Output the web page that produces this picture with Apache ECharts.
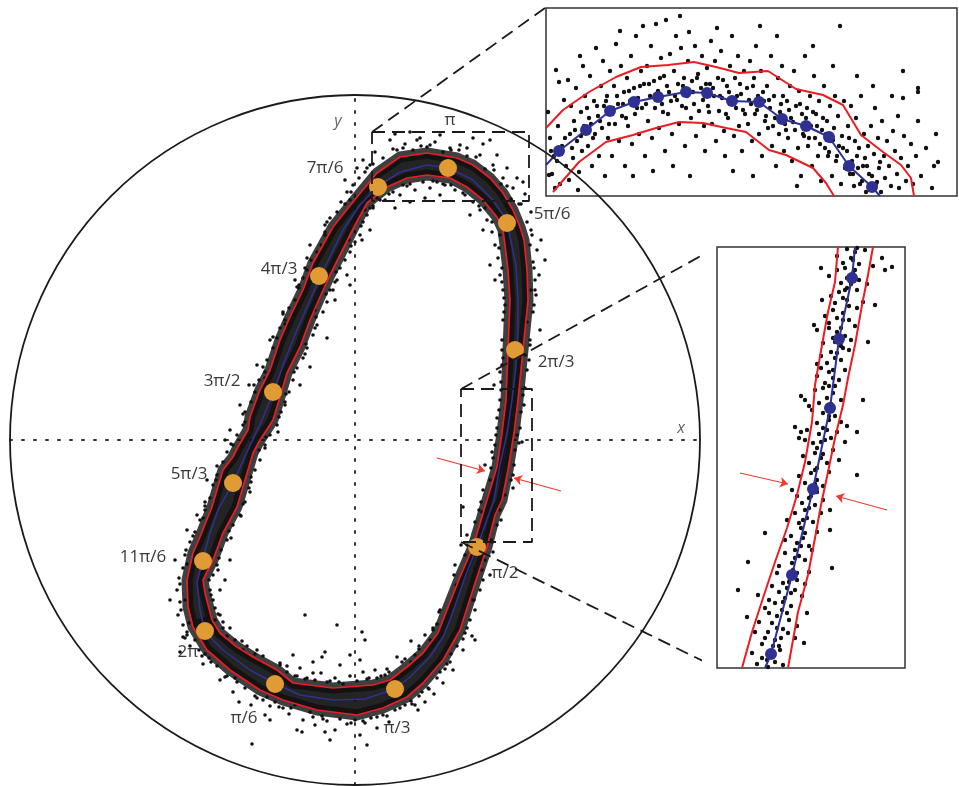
<!DOCTYPE html>
<html><head><meta charset="utf-8">
<script src="https://cdn.jsdelivr.net/npm/echarts@6.0.0/dist/echarts.min.js"></script>
<style>html,body{margin:0;padding:0;background:#fff}#c{width:959px;height:786px}</style>
</head><body><div id="c"></div>
<script>
// Main panel units: the large circle has radius R, origin at its centre, y up.
const R = 345;
const centerCurve = [[-150,-192],[-132,-210],[-105,-230],[-79,-244],[-55,-255],[-22,-260],[10,-259],[40,-249],[55,-237],[75,-217],[88,-197],[95,-180],[110,-137],[122,-107],[139,-60],[145,-25],[152,7],[157,40],[161,73],[163,110],[163,140],[161,175],[152,217],[148,225],[138,240],[118,260],[94,272],[72,275],[45,268],[22,253],[5,235],[-12,210],[-35,163],[-58,110],[-70,80],[-82,47],[-93,20],[-103,-1],[-122,-43],[-137,-70],[-145,-93],[-153,-122],[-158,-143],[-155,-170],[-150,-192]];
const outerCurve = [[-162,-187],[-148,-210],[-125,-230],[-95,-250],[-72,-260],[-38,-270],[2,-275],[28,-268],[52,-257],[68,-243],[88,-220],[105,-190],[113,-165],[122,-137],[132,-107],[140,-75],[147,-60],[153,-30],[159,7],[163,40],[168,90],[173,140],[172,170],[169,200],[165,213],[158,230],[148,247],[135,262],[118,275],[102,282],[72,287],[45,283],[22,267],[2,243],[-22,213],[-42,177],[-52,150],[-65,123],[-75,100],[-85,70],[-95,50],[-105,23],[-107,10],[-117,-7],[-122,-17],[-132,-30],[-138,-50],[-143,-67],[-155,-97],[-162,-113],[-168,-140],[-167,-167],[-162,-187]];
const innerCurve = [[-143,-180],[-135,-193],[-118,-207],[-102,-217],[-78,-230],[-62,-243],[-22,-248],[18,-245],[35,-240],[52,-227],[68,-213],[83,-193],[90,-175],[105,-137],[118,-107],[132,-60],[142,-27],[147,7],[151,40],[153,90],[155,140],[153,170],[150,195],[148,210],[142,223],[128,240],[112,253],[95,262],[72,265],[52,262],[32,253],[12,237],[0,215],[-10,195],[-25,165],[-35,143],[-45,120],[-55,93],[-68,67],[-75,43],[-82,20],[-95,0],[-102,-13],[-110,-40],[-118,-67],[-132,-93],[-142,-120],[-152,-140],[-150,-153],[-143,-180]];
const phaseLabels = ['π','7π/6','5π/6','4π/3','2π/3','3π/2','5π/3','π/2','11π/6','2π','π/6','π/3'];
const phasePoints = [[93,272],[23,253],[152,217],[-36,164],[160,90],[-82,48],[-122,-43],[122,-107],[-152,-121],[-150,-191],[-80,-244],[40,-249]];
const cloud = [[-160,-200],[-165,-206],[-156,-210],[-170,-198],[-150,-214],[-144,-222],[-152,-224],[-138,-226],[-128,-236],[-135,-240],[-118,-242],[-110,-248],[-122,-252],[-100,-256],[-92,-260],[-104,-265],[-85,-266],[-140,-180],[-132,-188],[-128,-196],[-120,-200],[-112,-210],[-100,-214],[-95,-222],[-88,-226],[-125,-188],[-145,-176],[-175,-212],[-116,-262],[-90,-275],
[-80,-262],[-72,-268],[-66,-274],[-60,-265],[-52,-280],[-45,-272],[-40,-285],[-33,-276],[-28,-281],[-20,-290],[-15,-279],[-8,-284],[0,-280],[5,-295],[10,-283],[16,-278],[22,-288],[28,-275],[34,-282],[40,-270],[-58,-290],[-25,-300],[12,-305],[-85,-280],[-48,-266],[-10,-272],[18,-270],
[-75,-225],[-68,-232],[-60,-236],[-55,-228],[-48,-238],[-40,-240],[-34,-233],[-28,-242],[-20,-238],[-12,-244],[-5,-236],[2,-241],[8,-232],[14,-238],[20,-230],[26,-236],[32,-229],[-42,-222],[-15,-225],[5,-220],[-30,-212],[10,-200],[-18,-185],[-62,-215],[-50,-175],
[-53,-292],[-30,-292],[88,-243],[63,-270],[-33,-217],[-5,-215],[7,-192],[-42,-233],
[56,-261],[60,-265],[73,-248],[79,-254],[92,-224],[98,-230],[110,-193],[117,-196],[45,-268],[64,-256],[82,-238],[96,-214],[102,-206],[85,-232],[70,-262],[108,-210],[115,-180],[120,-200],
[30,-235],[47,-222],[42,-217],[64,-209],[56,-201],[78,-188],[84,-172],[75,-200],[70,-195],[60,-215],[48,-232],
[118,-160],[125,-150],[120,-128],[130,-120],[136,-100],[128,-92],[142,-85],[145,-70],[150,-55],[156,-40],[152,-20],[160,-10],[162,5],[158,20],[166,28],[168,45],[164,60],[172,70],[170,85],[175,100],[172,118],[178,128],[176,150],[180,160],[158,-35],[148,-45],[167,-2],[185,110],[135,-135],
[98,-160],[102,-148],[100,-125],[110,-115],[112,-95],[120,-82],[124,-70],[128,-50],[135,-40],[138,-18],[140,-5],[142,12],[144,30],[146,50],[145,68],[148,82],[147,100],[148,120],[150,135],[116,-120],[106,-105],[139,55],[130,-25],[108,-67],
[180,150],[184,165],[178,178],[182,190],[177,205],[172,218],[176,228],[166,236],[170,246],[158,252],[162,262],[148,262],[152,272],[138,275],[142,285],[125,285],[128,296],[112,292],[186,200],[190,180],[168,258],[135,300],[118,302],
[148,150],[145,165],[143,182],[140,195],[137,208],[132,220],[125,230],[118,238],[110,245],[100,250],[140,160],[128,210],[115,225],[135,175],[122,246],
[95,292],[88,288],[80,298],[72,293],[65,302],[58,290],[50,296],[42,290],[35,300],[28,282],[20,288],[15,275],[85,305],[55,308],[105,295],[62,300],[40,306],
[90,255],[82,258],[75,252],[68,258],[60,250],[52,254],[45,245],[38,248],[30,240],[22,242],[15,232],[70,242],[55,238],[85,245],[40,232],
[10,268],[4,262],[-2,255],[-8,248],[-5,240],[-14,238],[-18,228],[-25,222],[-22,212],[-30,205],[-34,195],[-38,188],[-44,180],[-48,170],[-52,162],[-56,155],[2,272],[8,280],[-10,260],[-30,215],[-45,195],[-60,160],
[25,240],[18,232],[12,225],[8,218],[5,205],[0,198],[-5,188],[-10,180],[-15,172],[-18,160],[-25,150],[-20,140],[15,210],[-8,165],
[-56,152],[-60,140],[-66,132],[-70,120],[-75,112],[-78,102],[-82,92],[-88,80],[-90,68],[-96,60],[-100,48],[-104,38],[-110,28],[-112,15],[-118,5],[-122,-5],[-128,-12],[-132,-22],[-138,-35],[-142,-45],[-62,125],[-72,128],[-85,100],[-98,75],[-106,55],[-115,35],[-125,10],[-130,0],[-148,-40],
[-22,150],[-28,138],[-32,128],[-38,115],[-42,105],[-48,92],[-52,82],[-58,72],[-62,60],[-66,48],[-70,38],[-74,28],[-78,15],[-85,5],[-90,-8],[-95,-20],[-100,-30],[-104,-42],[-28,102],[-45,73],[7,200],[-5,155],[-40,130],[-55,55],
[-145,-58],[-150,-70],[-155,-80],[-160,-92],[-165,-102],[-170,-115],[-172,-128],[-176,-138],[-178,-150],[-175,-162],[-177,-175],[-172,-185],[-168,-195],[-158,-75],[-168,-90],[-180,-120],[-185,-160],[-172,-197],[-150,-62],
[-105,-52],[-110,-62],[-115,-75],[-122,-85],[-128,-100],[-134,-110],[-138,-125],[-142,-135],[-145,-150],[-142,-160],[-140,-168],[-135,-175],[-135,-150],[-125,-120],[-130,-140],[-103,-304],
[-168,-192],[-166,-183],[-153,-216],[-146,-218],[-130,-237],[-120,-238],[-98,-258],[-88,-257],[-76,-267],[-64,-268],[-42,-277],[-32,-279],[-4,-283],[8,-281],[22,-277],[32,-276],[50,-265],[57,-264],[74,-249],[67,-252],[95,-222],[90,-229],[112,-188],[108,-199],[120,-170],[119,-160],[128,-140],[127,-130],[138,-112],[137,-102],[146,-80],[159,-25],[158,-48],[165,12],[164,-3],[169,35],[170,52],[174,80],[175,95],[179,135],[181,145],[179,172],[175,195],[176,210],[164,236],[156,241],[152,254],[146,256],[139,270],[130,271],[121,283],[112,284],[104,290],[96,290],[75,295],[66,294],[48,292],[38,291],[18,276],[12,272],[-4,248],[-10,236],[-28,218],[-30,208],[-48,182],[-50,172],[-58,153],[-72,126],[-70,116],[-82,103],[-92,73],[-90,62],[-101,55],[-112,26],[-110,18],[-124,-4],[-138,-26],[-139,-40],[-150,-66],[-152,-78],[-162,-96],[-169,-110],[-168,-124],[-175,-144],[-174,-170],[-170,-160],
[-137,-174],[-132,-182],[-113,-201],[-108,-206],[-98,-210],[-92,-216],[-75,-223],[-68,-226],[-58,-236],[-50,-239],[-25,-241],[-16,-242],[12,-239],[22,-238],[34,-232],[50,-219],[56,-222],[64,-206],[78,-190],[82,-184],[85,-170],[99,-135],[101,-145],[112,-105],[114,-118],[126,-62],[127,-72],[136,-28],[137,-12],[141,5],[142,22],[145,40],[146,58],[147,90],[147,75],[149,142],[149,128],[147,172],[147,158],[144,192],[145,205],[137,218],[124,234],[130,232],[108,247],[96,255],[88,256],[78,259],[55,256],[48,255],[34,246],[28,247],[18,234],[10,230],[6,214],[3,222],[-4,194],[-6,200],[-19,168],[-20,158],[-29,146],[-39,123],[-40,112],[-49,96],[-50,86],[-61,68],[-69,46],[-70,35],[-76,23],[-77,8],[-89,3],[-90,-5],[-96,-10],[-104,-37],[-106,-48],[-112,-64],[-114,-76],[-126,-91],[-124,-98],[-136,-118],[-137,-130],[-146,-140],[-144,-155]];
const arrowsMain = [[[82,-18],[130,-31]],[[206,-51],[159,-38]]];
// dashed zoom regions and their connectors (main units)
const boxTop = [[17,308],[174,308],[174,239],[17,239],[17,308]];
const boxSide = [[106,51],[177,51],[177,-102],[106,-102],[106,51]];
const connectors = [[[17,308],[190,432]],[[106,51],[362,193]],[[106,-102],[362,-228]]];
const axisNames = [['x',[326,12]],['y',[-17,319]]];

// Top zoom panel (local zoom units)
const topBlueStart = [0,31], topBlueEnd = [334,0];
const topBlue = [[13,45],[40,66],[64,85],[88,94],[112,99],[140,104],[161,103],[186,95],[213,94],[236,77],[260,70],[283,59],[303,30],[326,9]];
const topOuter = [[0,68],[17,86],[43,104],[70,119],[95,129],[122,131],[148,134],[170,129],[193,123],[222,125],[250,107],[277,101],[297,91],[315,61],[337,44],[355,31],[365,18],[368,0]];
const topInner = [[7,4],[33,34],[60,54],[87,61],[110,68],[133,74],[157,73],[180,68],[200,64],[223,46],[240,41],[267,28],[280,13],[288,0]];
const topCloud = [[2,84],[4,58],[6,22],[8,40],[10,126],[12,70],[13,114],[14,12],[16,50],[18,96],[20,30],[3,21],[22,116],[23,16],[9,8],
[24,62],[25,90],[27,38],[28,75],[30,108],[31,55],[33,24],[34,140],[35,84],[36,45],[38,70],[39,100],[32,6],[37,130],
[41,88],[42,50],[44,120],[45,72],[46,30],[48,95],[49,62],[50,148],[52,80],[53,40],[55,110],[56,68],[58,90],[59,20],[57,135],
[61,100],[62,58],[64,125],[65,84],[66,40],[68,110],[69,72],[70,152],[72,92],[73,55],[75,130],[76,80],[78,104],[79,30],[74,165],
[81,118],[82,70],[84,95],[85,140],[86,52],[88,108],[89,82],[90,160],[92,98],[93,62],[95,125],[96,88],[98,112],[99,40],[97,170],[87,20],
[101,130],[102,75],[104,100],[105,150],[106,58],[108,115],[109,88],[110,172],[112,105],[113,68],[115,138],[116,92],[118,120],[119,45],[120,176],[107,25],
[121,110],[122,82],[124,142],[125,95],[126,62],[128,125],[129,100],[130,160],[132,112],[133,72],[135,148],[136,90],[138,118],[139,50],[134,180],[127,30],
[141,100],[142,135],[143,164],[145,78],[146,115],[148,92],[149,150],[150,60],[152,122],[153,85],[155,108],[156,140],[158,70],[159,45],[144,20],
[161,128],[162,90],[164,112],[165,155],[166,72],[168,100],[169,135],[170,55],[172,118],[173,85],[175,145],[176,98],[178,65],[179,40],[171,168],
[181,110],[182,78],[184,130],[185,95],[186,160],[188,60],[189,118],[190,88],[192,140],[193,70],[195,102],[196,45],[198,125],[199,82],[187,25],
[201,108],[202,72],[204,135],[205,92],[206,55],[208,118],[209,82],[210,150],[212,100],[213,62],[215,125],[216,40],[218,95],[219,75],[214,170],[207,20],
[221,110],[222,68],[224,88],[225,140],[226,50],[228,100],[229,78],[230,30],[232,118],[233,62],[235,92],[236,130],[238,45],[239,72],[231,160],
[241,95],[242,58],[244,110],[245,78],[246,35],[248,125],[249,66],[250,90],[252,48],[253,105],[255,20],[256,82],[258,60],[259,140],[251,10],
[261,88],[262,50],[264,100],[265,70],[266,30],[268,120],[269,58],[270,82],[272,40],[273,95],[275,15],[276,66],[278,110],[279,48],[267,150],
[281,75],[282,40],[284,90],[285,55],[286,20],[288,68],[289,100],[290,35],[292,80],[293,50],[295,12],[296,60],[298,95],[299,28],[287,130],[294,170],
[301,45],[302,70],[304,22],[305,90],[306,35],[308,10],[309,55],[310,78],[312,28],[313,48],[315,100],[316,15],[318,62],[319,38],[311,120],
[321,30],[322,50],[324,8],[325,70],[326,20],[328,42],[329,88],[330,12],[332,58],[333,28],[335,4],[336,75],[338,40],[339,18],[327,110],
[341,55],[343,30],[345,10],[347,65],[349,45],[351,22],[353,8],[355,38],[358,60],[360,15],[346,100],[352,80],
[362,30],[365,52],[367,12],[370,40],[372,75],[375,20],[380,48],[388,30],[386,8],[372,108],[390,62],[357,125],[357,98],[372,104],[392,34],
[5,45],[11,35],[19,58],[26,48],[29,66],[35,60],[43,78],[47,58],[51,90],[54,75],[60,95],[63,72],[67,88],[71,100],[77,92],[80,78],[83,105],[91,88],[94,110],[100,92],[103,112],[111,96],[114,118],[117,84],[123,104],[131,96],[137,110],[140,88],[147,104],[151,118],[157,96],[160,112],[163,84],[167,108],[174,100],[177,116],[180,82],[183,104],[191,100],[194,112],[197,86],[203,96],[207,110],[211,86],[217,104],[220,80],[223,96],[227,70],[234,84],[237,100],[240,66],[243,86],[247,74],[254,92],[257,62],[260,78],[263,58],[267,84],[271,70],[274,52],[277,78],[280,62],[283,44],[287,56],[291,40],[297,48],[300,30],[303,58],[307,22],[311,40],[314,12],[317,30],[320,4],[323,22],[331,14],[334,34]];

// Side zoom panel (local zoom units)
const sideBlueStart = [48,0], sideBlueEnd = [138,421];
const sideBlue = [[54,14],[75,93],[96,179],[113,260],[122,329],[135,390]];
const sideLeft = [[25,0],[35,36],[46,70],[58,106],[70,140],[80,173],[88,206],[95,246],[98,283],[105,323],[111,356],[118,386],[121,421]];
const sideRight = [[71,0],[81,56],[91,93],[98,130],[104,163],[111,196],[118,230],[126,263],[131,290],[138,323],[145,363],[151,393],[156,421]];
const sideCloud = [[45,10],[53,13],[51,1],[63,18],[40,4],[58,6],[35,15],[66,3],
[87,25],[38,36],[51,36],[71,35],[58,28],[62,22],[48,30],[45,24],[66,39],[78,30],
[30,51],[48,60],[90,55],[55,45],[60,52],[65,58],[72,48],[52,55],[80,42],[42,46],
[21,78],[41,73],[58,65],[68,70],[62,76],[74,62],[78,78],[52,68],[85,72],
[66,85],[72,92],[80,88],[60,95],[76,98],[88,84],[55,82],[92,96],[70,80],
[31,106],[115,100],[75,105],[82,112],[68,115],[88,108],[62,102],[95,118],[78,118],
[48,135],[113,138],[80,125],[86,130],[74,132],[92,122],[68,128],[100,136],[84,140],
[113,158],[82,145],[90,150],[78,155],[96,146],[70,148],[104,155],[88,158],
[98,163],[85,165],[92,170],[100,176],[80,172],[106,168],[75,178],[95,178],
[140,193],[88,185],[100,188],[94,195],[106,182],[82,192],[112,196],[98,198],
[92,205],[104,210],[98,215],[110,205],[86,212],[116,218],[100,220],[122,208],
[96,225],[108,228],[102,234],[114,230],[90,238],[120,236],[106,240],[128,226],
[100,245],[112,248],[106,255],[118,252],[95,258],[124,246],[110,260],[130,242],
[102,265],[110,270],[116,275],[98,278],[124,268],[106,280],[84,272],[88,268],[92,262],
[78,241],[84,236],[82,230],[88,228],
[108,285],[116,290],[112,296],[122,288],[100,292],[128,298],[104,300],[118,282],
[110,305],[118,310],[114,316],[124,308],[104,312],[132,318],[100,304],[126,320],
[106,325],[116,330],[120,336],[112,340],[128,332],[100,338],[134,328],[124,322],
[112,345],[120,350],[126,355],[116,358],[132,348],[108,352],[138,342],[140,360],
[118,365],[126,370],[122,376],[132,362],[114,372],[140,378],[130,380],[146,366],
[124,385],[130,390],[136,395],[120,398],[142,388],[128,400],[150,384],[112,392],
[126,405],[134,410],[138,416],[130,419],[142,404],[120,412],[148,418],[156,402],[165,410],[104,400],
[168,398],[175,401],[158,363],[151,326],[146,268],[140,236],[97,343],[105,368],
[50,8],[56,22],[60,40],[64,30],[70,55],[66,66],[74,75],[72,86],[80,95],[78,110],[84,122],[88,135],[86,148],[92,160],[94,172],[98,184],[100,200],[106,214],[104,226],[110,238],[112,252],[114,264],[112,282],[116,298],[120,315],[118,326],[124,340],[126,348],[130,368],[128,378],[134,384],[138,398],[136,408],[140,420]];
const arrowsSide = [[[23,195],[71,184]],[[170,158],[119,172]]];

// ---- styles (kept apart from data) ----
const RED = '#ec1c24', BLUE = '#2e3192', ORANGE = '#e19b35', INK = '#111', TXT = '#3a3a3a';
const FONT = "'Open Sans','DejaVu Sans',sans-serif";
const labelOffset = {'π':[2,-48],'7π/6':[-53,-19],'5π/6':[45,-9],'4π/3':[-40,-7],'2π/3':[41,12],'3π/2':[-51,-11],'5π/3':[-44,-9],'π/2':[28,26],'11π/6':[-60,-4],'2π':[-17,21],'π/6':[-31,34],'π/3':[2,39]};

const chart = echarts.init(document.getElementById('c'));
const ax = (gi, min, max, extra) => Object.assign({type:'value', gridIndex:gi, min, max, axisLabel:{show:false}, axisTick:{show:false}, splitLine:{show:false}, axisLine:{show:false}}, extra || {});
const dotted = {axisLine:{show:true, onZero:true, lineStyle:{color:'#333', width:2, type:[2,10]}}};
const line = (gi, data, color, width, z, extra) => Object.assign({type:'line', xAxisIndex:gi, yAxisIndex:gi, data, symbol:'none', showSymbol:false, silent:true, lineStyle:{color, width}, z}, extra || {});
const dots = (gi, data, size, color, z) => ({type:'scatter', xAxisIndex:gi, yAxisIndex:gi, data, symbolSize:size, itemStyle:{color, opacity:1}, silent:true, z});
const arrowMark = (list) => ({silent:true, symbol:['none','arrow'], symbolSize:8, label:{show:false}, lineStyle:{color:'#ef3b2d', width:1.2, type:'solid'}, data:list.map(a => [{coord:a[0]},{coord:a[1]}])});
const dash = {color:'#1a1a1a', width:1.8, type:[13,7]};

const option = {
  animation:false,
  backgroundColor:'#fff',
  grid:[
    {left:10, top:95, width:690, height:690},
    {left:546, top:8, width:411, height:188, show:true, borderColor:'#333', borderWidth:1.5, backgroundColor:'#fff'},
    {left:717, top:247, width:188, height:421, show:true, borderColor:'#333', borderWidth:1.5, backgroundColor:'#fff'}
  ],
  xAxis:[ax(0,-R,R,dotted), ax(1,0,411), ax(2,0,188)],
  yAxis:[ax(0,-R,R,dotted), ax(1,0,188), ax(2,0,421)],
  series:[
    {type:'custom', xAxisIndex:0, yAxisIndex:0, data:[[0,0,R]], silent:true, z:6,
      renderItem:(p, api) => {
        const c = api.coord([api.value(0), api.value(1)]);
        const r = api.size([api.value(2), 0])[0];
        return {type:'circle', shape:{cx:c[0], cy:c[1], r}, style:{fill:'none', stroke:'#1a1a1a', lineWidth:1.8}};
      }},
    {type:'custom', xAxisIndex:0, yAxisIndex:0, data:[[0,0]], silent:true, z:2,
      renderItem:(p, api) => {
        const pts = outerCurve.map(q => api.coord(q)).concat(innerCurve.slice().reverse().map(q => api.coord(q)));
        return {type:'polygon', shape:{points:pts}, style:{fill:'rgba(12,12,12,0.9)', stroke:'rgba(15,15,15,0.8)', lineWidth:11, lineJoin:'round'}};
      }},
    Object.assign(dots(0, cloud, 3.6, INK, 3), {markLine:arrowMark(arrowsMain)}),
    line(0, outerCurve, RED, 1.7, 4),
    line(0, innerCurve, RED, 1.7, 4),
    line(0, centerCurve, BLUE, 1.5, 4),
    {type:'scatter', xAxisIndex:0, yAxisIndex:0, silent:true, z:7, symbolSize:18, itemStyle:{color:ORANGE, opacity:1},
      data: phaseLabels.map((l, i) => ({name:l, value:phasePoints[i], label:{offset:labelOffset[l]}})),
      label:{show:true, position:'inside', formatter:'{b}', color:TXT, fontSize:17, fontFamily:FONT}},
    {type:'scatter', xAxisIndex:0, yAxisIndex:0, silent:true, z:7, symbolSize:1, itemStyle:{color:'rgba(0,0,0,0)'},
      data: axisNames.map(a => ({name:a[0], value:a[1]})),
      label:{show:true, position:'inside', formatter:'{b}', color:TXT, fontSize:16, fontStyle:'italic', fontFamily:FONT}},
    line(0, boxTop, '#1a1a1a', 1.8, 8, {lineStyle:dash, clip:false}),
    line(0, boxSide, '#1a1a1a', 1.8, 8, {lineStyle:dash, clip:false}),
    ...connectors.map(c => line(0, c, '#1a1a1a', 1.8, 8, {lineStyle:dash, clip:false})),
    // top zoom panel
    dots(1, topCloud, 4.4, INK, 3),
    line(1, topOuter, RED, 2, 4),
    line(1, topInner, RED, 2, 4),
    line(1, [topBlueStart].concat(topBlue, [topBlueEnd]), BLUE, 2, 5),
    dots(1, topBlue, 12, BLUE, 6),
    // side zoom panel
    Object.assign(dots(2, sideCloud, 4.4, INK, 3), {markLine:arrowMark(arrowsSide)}),
    line(2, sideLeft, RED, 2, 4),
    line(2, sideRight, RED, 2, 4),
    line(2, [sideBlueStart].concat(sideBlue, [sideBlueEnd]), BLUE, 2, 5),
    dots(2, sideBlue, 12, BLUE, 6)
  ]
};
chart.setOption(option);
</script>
</body></html>
